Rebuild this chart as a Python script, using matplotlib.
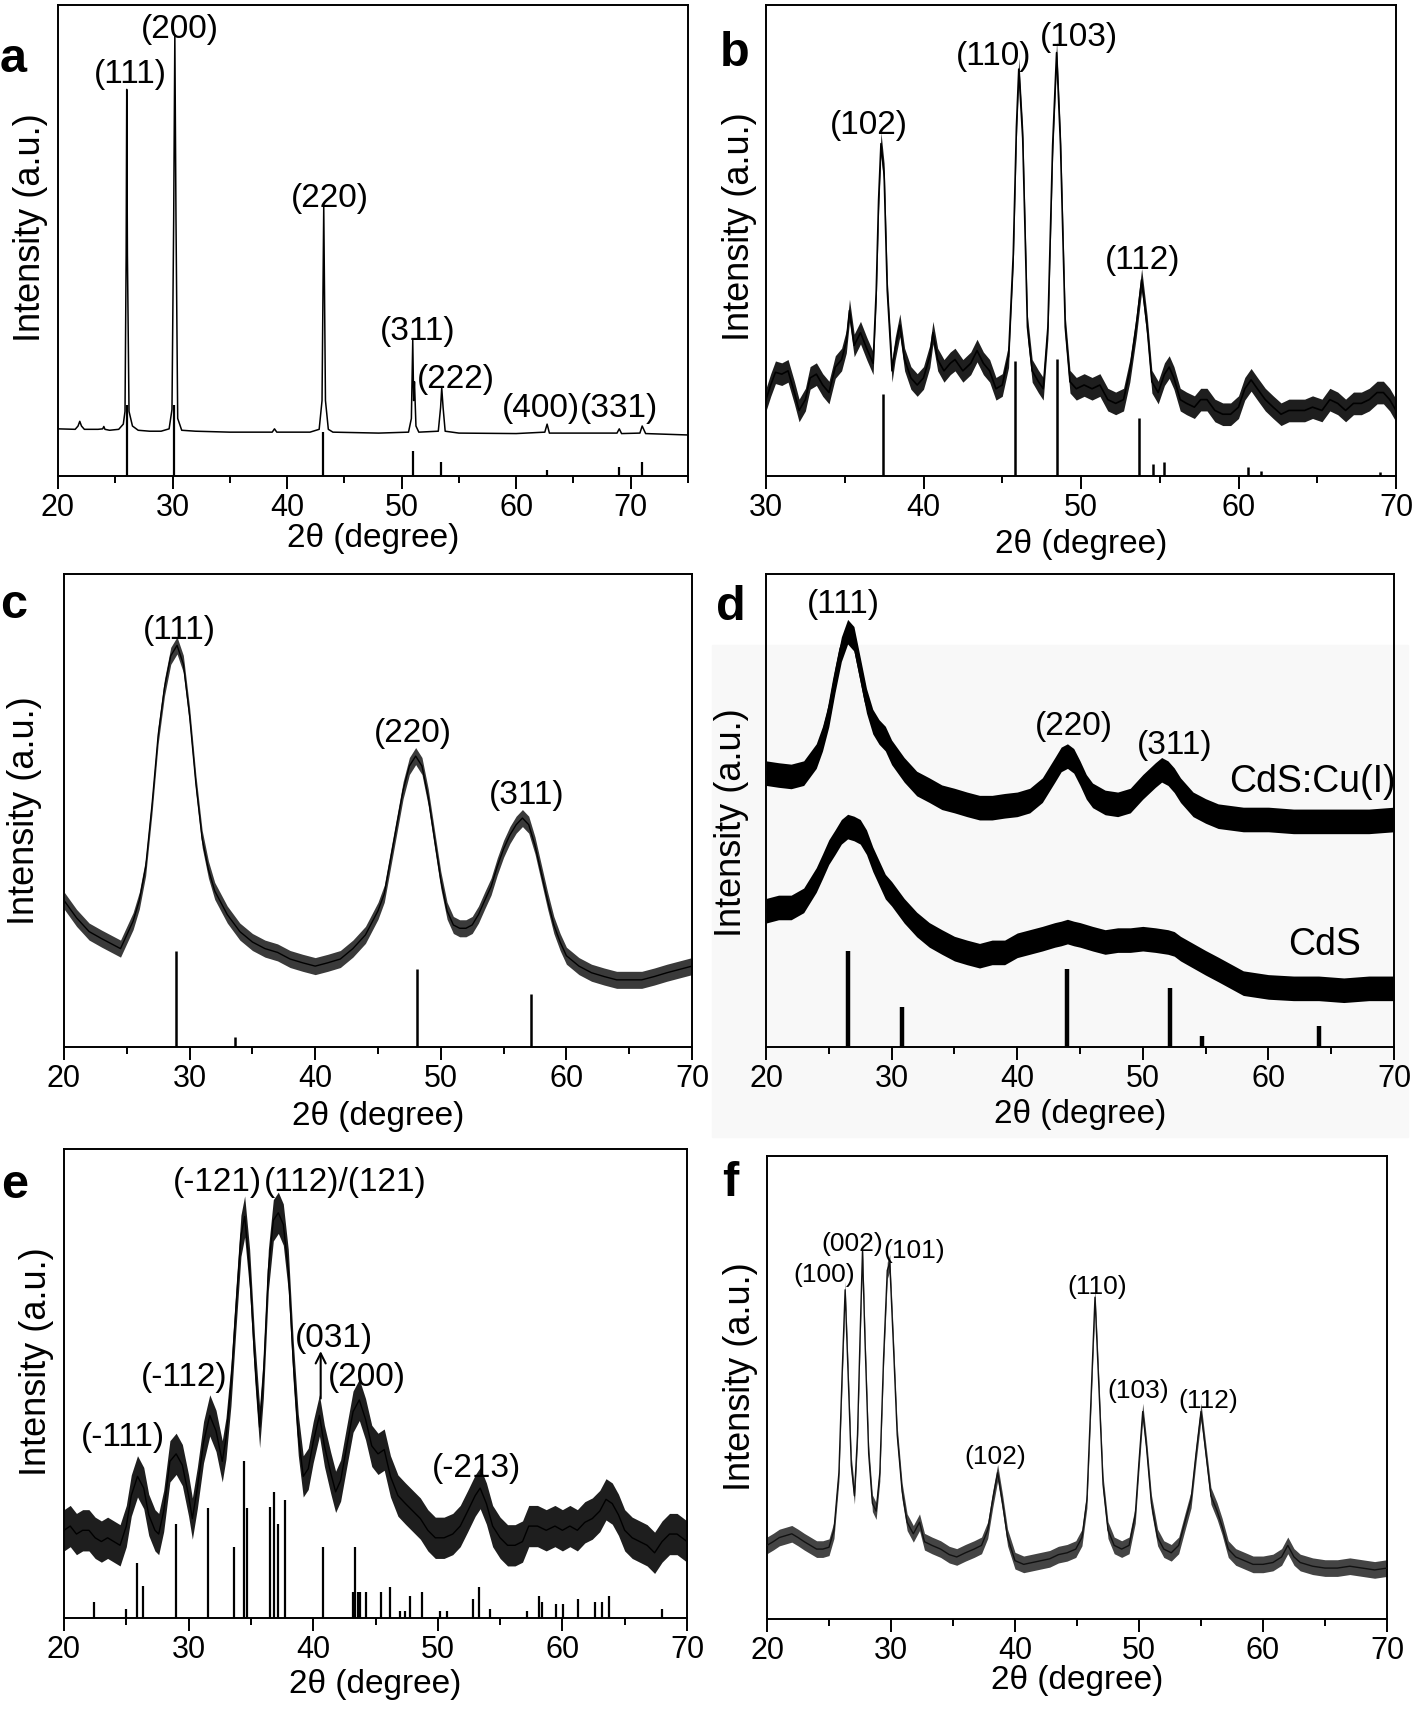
import numpy as np
import matplotlib
matplotlib.use("Agg")
import matplotlib.pyplot as plt
from matplotlib.patches import Rectangle
from matplotlib.ticker import MultipleLocator

plt.rcParams['font.family'] = ['Liberation Sans', 'DejaVu Sans']

# ---------------- data (normalised intensity, frame = 0..1) ----------------
# panel a
A_X = [20.0, 21.5, 21.75, 21.9, 22.05, 22.3, 23.5, 23.9, 24.0, 24.1, 24.5, 25.3, 25.7, 25.85,
       25.95, 26.0, 26.06, 26.2, 26.5, 27.0, 28.0, 29.0, 29.7, 29.95, 30.1, 30.2, 30.3, 30.45,
       30.8, 32.0, 35.0, 38.7, 38.9, 39.1, 42.0, 42.8, 43.05, 43.2, 43.35, 43.6, 44.0, 48.0,
       50.6, 50.85, 50.97, 51.05, 51.12, 51.25, 51.5, 53.2, 53.4, 53.5, 53.62, 53.8, 55.0, 60.0,
       62.5, 62.7, 62.9, 68.8, 69.0, 69.2, 70.8, 71.0, 71.3, 75.0]
A_Y = [0.100, 0.099, 0.106, 0.116, 0.106, 0.099, 0.099, 0.100, 0.105, 0.099, 0.097, 0.099, 0.110, 0.137,
       0.469, 0.820, 0.469, 0.137, 0.106, 0.097, 0.095, 0.095, 0.100, 0.141, 0.546, 0.936, 0.546, 0.122,
       0.097, 0.095, 0.093, 0.093, 0.100, 0.093, 0.093, 0.099, 0.160, 0.573, 0.160, 0.099, 0.093, 0.091,
       0.093, 0.122, 0.288, 0.160, 0.200, 0.106, 0.093, 0.095, 0.145, 0.187, 0.145, 0.095, 0.091, 0.090,
       0.093, 0.110, 0.091, 0.091, 0.100, 0.090, 0.091, 0.106, 0.090, 0.087]
A_STICK_X = [26.0, 30.1, 43.1, 51.0, 53.4, 62.7, 69.0, 71.0]
A_STICK_H = [0.15, 0.15, 0.093, 0.053, 0.030, 0.013, 0.019, 0.030]
A_LABELS = ['(111)', '(200)', '(220)', '(311)', '(222)', '(400)', '(331)']
A_LAB_X = [26.3, 30.6, 43.7, 51.4, 54.7, 62.2, 69.0]
A_LAB_Y = [0.851, 0.948, 0.589, 0.306, 0.205, 0.144, 0.144]

# panel b
B_X = [30.0, 30.3, 30.6, 31.0, 31.4, 31.8, 32.1, 32.5, 32.8, 33.2, 33.6, 34.0, 34.4, 34.8, 35.1,
       35.3, 35.6, 36.0, 36.4, 36.8, 37.0, 37.15, 37.3, 37.5, 37.7, 38.0, 38.2, 38.5, 38.8, 39.2,
       39.6, 40.0, 40.4, 40.6, 40.9, 41.3, 41.7, 42.0, 42.5, 43.0, 43.4, 43.8, 44.2, 44.6, 45.0,
       45.4, 45.7, 45.9, 46.05, 46.3, 46.6, 46.9, 47.3, 47.6, 47.9, 48.2, 48.45, 48.7, 49.0, 49.3,
       49.7, 50.2, 50.7, 51.2, 51.7, 52.2, 52.7, 53.1, 53.5, 53.85, 54.2, 54.5, 54.9, 55.3, 55.6,
       55.9, 56.3, 56.7, 57.2, 57.6, 58.0, 58.5, 59.0, 59.5, 60.0, 60.4, 60.8, 61.2, 61.7, 62.2,
       62.7, 63.2, 63.7, 64.2, 64.7, 65.3, 65.8, 66.3, 66.8, 67.3, 67.8, 68.3, 68.8, 69.2, 69.6, 70.0]
B_Y = [0.162, 0.193, 0.220, 0.216, 0.223, 0.177, 0.139, 0.162, 0.208, 0.216, 0.193, 0.177, 0.231, 0.247, 0.285,
       0.351, 0.277, 0.304, 0.270, 0.239, 0.393, 0.586, 0.705, 0.639, 0.393, 0.223, 0.270, 0.320, 0.247, 0.208,
       0.193, 0.208, 0.254, 0.304, 0.247, 0.223, 0.239, 0.247, 0.223, 0.239, 0.266, 0.239, 0.223, 0.185, 0.193,
       0.254, 0.470, 0.740, 0.863, 0.716, 0.316, 0.223, 0.200, 0.185, 0.316, 0.701, 0.898, 0.701, 0.316, 0.200,
       0.185, 0.193, 0.185, 0.193, 0.162, 0.154, 0.162, 0.223, 0.316, 0.416, 0.316, 0.200, 0.177, 0.216, 0.231,
       0.208, 0.162, 0.154, 0.146, 0.162, 0.162, 0.139, 0.131, 0.131, 0.146, 0.185, 0.204, 0.185, 0.162, 0.146,
       0.131, 0.139, 0.139, 0.139, 0.146, 0.139, 0.162, 0.154, 0.139, 0.154, 0.154, 0.162, 0.177, 0.177, 0.162, 0.139]
B_NOISE = 0.024
B_STICK_X = [37.4, 45.8, 48.5, 53.7, 54.6, 55.3, 60.6, 61.4, 69.0]
B_STICK_H = [0.173, 0.243, 0.249, 0.123, 0.025, 0.029, 0.019, 0.010, 0.008]
B_LABELS = ['(102)', '(110)', '(103)', '(112)']
B_LAB_X = [36.55, 44.45, 49.85, 53.9]
B_LAB_Y = [0.743, 0.890, 0.930, 0.458]

# panel c
C_X = [20, 21, 22, 23, 24, 24.5, 25, 25.5, 26, 26.5, 27, 27.5, 28, 28.5, 29, 29.5, 30, 30.5, 31, 31.5,
       32, 33, 34, 35, 36, 37, 38, 39, 40, 41, 42, 43, 44, 45, 45.5, 46, 46.5, 47, 47.5, 48,
       48.5, 49, 49.5, 50, 50.5, 51, 51.5, 52, 52.5, 53, 53.5, 54, 54.5, 55, 55.5, 56, 56.5, 57, 57.5, 58,
       58.5, 59, 59.5, 60, 61, 62, 63, 64, 65, 66, 67, 68, 69, 70]
C_Y = [0.31, 0.273, 0.244, 0.229, 0.215, 0.208, 0.237, 0.266, 0.31, 0.38, 0.51, 0.66, 0.76, 0.827, 0.849,
       0.81, 0.70, 0.557, 0.44, 0.375, 0.33, 0.28, 0.244, 0.222, 0.208, 0.2, 0.186, 0.178, 0.171, 0.178,
       0.186, 0.208, 0.237, 0.288, 0.324, 0.397, 0.47, 0.543, 0.594, 0.615, 0.594, 0.528, 0.44, 0.353, 0.288,
       0.258, 0.251, 0.251, 0.258, 0.28, 0.31, 0.339, 0.382, 0.419, 0.448, 0.47, 0.484, 0.47, 0.426, 0.368,
       0.31, 0.258, 0.222, 0.193, 0.171, 0.157, 0.149, 0.142, 0.142, 0.142, 0.149, 0.157, 0.164, 0.171]
C_NOISE = 0.018
C_STICK_X = [28.9, 33.6, 48.1, 57.2]
C_STICK_H = [0.202, 0.022, 0.164, 0.111]
C_LABELS = ['(111)', '(220)', '(311)']
C_LAB_X = [29.2, 47.8, 56.8]
C_LAB_Y = [0.881, 0.663, 0.532]

# panel d
D_X = [20, 21, 22, 23, 24, 24.5, 25, 25.5, 26, 26.5, 27, 27.5, 28, 28.5, 29, 29.5, 30, 31, 32, 33,
       34, 35, 36, 37, 38, 39, 40, 41, 42, 43, 43.5, 44, 44.5, 45, 45.5, 46, 47, 48, 49, 50,
       51, 51.5, 52, 52.5, 53, 54, 55, 56, 58, 60, 62, 64, 66, 68, 70]
D_CU_Y = [0.579, 0.575, 0.572, 0.579, 0.615, 0.652, 0.703, 0.776, 0.841, 0.878, 0.863, 0.798, 0.732, 0.688, 0.666,
          0.652, 0.623, 0.586, 0.557, 0.543, 0.528, 0.521, 0.513, 0.506, 0.506, 0.510, 0.513, 0.521, 0.543, 0.586,
          0.608, 0.615, 0.605, 0.579, 0.550, 0.532, 0.517, 0.513, 0.521, 0.550, 0.575, 0.586, 0.579, 0.564, 0.543,
          0.513, 0.499, 0.488, 0.481, 0.481, 0.477, 0.477, 0.477, 0.477, 0.481]
D_CDS_Y = [0.288, 0.295, 0.295, 0.310, 0.353, 0.382, 0.412, 0.433, 0.455, 0.466, 0.462, 0.455, 0.433, 0.397, 0.368,
           0.339, 0.324, 0.288, 0.259, 0.237, 0.222, 0.208, 0.200, 0.193, 0.200, 0.200, 0.215, 0.222, 0.229, 0.237,
           0.240, 0.244, 0.240, 0.237, 0.233, 0.229, 0.222, 0.226, 0.226, 0.229, 0.226, 0.224, 0.222, 0.218, 0.208,
           0.193, 0.178, 0.164, 0.135, 0.127, 0.124, 0.124, 0.120, 0.124, 0.124]
D_NOISE = 0.026
D_STICK_X = [26.5, 30.8, 44.0, 52.2, 54.7, 64.0]
D_STICK_H = [0.204, 0.084, 0.164, 0.124, 0.024, 0.044]
D_LABELS = ['(111)', '(220)', '(311)']
D_LAB_X = [26.2, 44.5, 52.5]
D_LAB_Y = [0.935, 0.677, 0.637]
D_SERIES = ['CdS:Cu(I)', 'CdS']
D_SER_X = [63.5, 64.5]
D_SER_Y = [0.560, 0.215]

# panel e
E_X = [20.0, 20.5, 21.0, 21.5, 22.0, 22.5, 23.0, 23.5, 24.0, 24.5, 25.0, 25.4, 25.9, 26.4, 26.8, 27.3, 27.6,
       28.0, 28.5, 29.0, 29.5, 30.0, 30.3, 30.7, 31.2, 31.7, 32.2, 32.7, 33.0, 33.4, 33.8, 34.2, 34.5,
       34.9, 35.3, 35.7, 36.0, 36.4, 36.8, 37.2, 37.6, 38.0, 38.4, 38.8, 39.2, 39.6, 40.0, 40.5, 40.9,
       41.4, 41.8, 42.2, 42.7, 43.2, 43.7, 44.2, 44.7, 45.2, 45.7, 46.2, 46.8, 47.4, 48.0, 48.6, 49.2,
       49.8, 50.5, 51.2, 51.8, 52.4, 53.0, 53.4, 53.9, 54.4, 55.0, 55.6, 56.2, 56.8, 57.3, 58.0, 58.7,
       59.4, 60.0, 60.6, 61.2, 61.8, 62.4, 63.0, 63.5, 64.0, 64.5, 65.0, 65.6, 66.2, 66.8, 67.4, 68.0,
       68.6, 69.2, 69.6, 70.0]
E_Y = [0.187, 0.196, 0.179, 0.187, 0.187, 0.171, 0.163, 0.171, 0.163, 0.155, 0.196, 0.261, 0.302, 0.277, 0.220, 0.187, 0.179,
       0.228, 0.334, 0.350, 0.326, 0.261, 0.212, 0.277, 0.375, 0.432, 0.399, 0.334, 0.383, 0.497, 0.660, 0.815, 0.856,
       0.742, 0.554, 0.407, 0.513, 0.742, 0.848, 0.864, 0.839, 0.742, 0.546, 0.391, 0.302, 0.318, 0.375, 0.432, 0.367,
       0.310, 0.269, 0.293, 0.367, 0.440, 0.465, 0.424, 0.367, 0.350, 0.359, 0.302, 0.261, 0.244, 0.228, 0.212, 0.187,
       0.171, 0.171, 0.179, 0.196, 0.228, 0.261, 0.277, 0.244, 0.196, 0.171, 0.155, 0.155, 0.163, 0.196, 0.196, 0.187,
       0.196, 0.187, 0.196, 0.187, 0.204, 0.212, 0.228, 0.253, 0.244, 0.220, 0.187, 0.171, 0.163, 0.155, 0.139, 0.163,
       0.179, 0.179, 0.171, 0.163]
E_NOISE = 0.044
E_STICK_X = [22.43, 24.97, 25.88, 26.32, 28.96, 31.56, 33.62, 34.44, 34.67, 36.57, 36.84, 37.14, 37.75,
             40.76, 43.22, 43.39, 43.56, 43.73, 44.24, 45.42, 46.2, 46.94, 47.38, 47.79, 48.74, 50.16,
             50.76, 52.79, 53.3, 54.21, 57.19, 58.1, 58.37, 59.45, 60.06, 61.24, 62.6, 63.17, 63.78, 67.97]
E_STICK_H = [0.034, 0.020, 0.118, 0.069, 0.200, 0.234, 0.151, 0.334, 0.234, 0.236, 0.269, 0.200, 0.251,
             0.151, 0.055, 0.151, 0.055, 0.055, 0.055, 0.055, 0.067, 0.015, 0.015, 0.047, 0.055, 0.015,
             0.015, 0.041, 0.067, 0.020, 0.015, 0.047, 0.035, 0.030, 0.030, 0.041, 0.035, 0.035, 0.047, 0.020]
E_LABELS = ['(-111)', '(-112)', '(-121)', '(112)/(121)', '(031)', '(200)', '(-213)']
E_LAB_X = [24.7, 29.65, 32.3, 42.6, 41.7, 44.3, 53.1]
E_LAB_Y = [0.385, 0.513, 0.929, 0.929, 0.597, 0.513, 0.318]
E_ARROW_X = 40.6
E_ARROW_Y = [0.462, 0.575]

# panel f
F_X = [20.0, 20.5, 21.0, 21.5, 22.0, 22.5, 23.0, 23.5, 24.0, 24.5, 25.0, 25.4, 25.8, 26.05, 26.3, 26.55,
       26.8, 27.05, 27.3, 27.5, 27.7, 27.9, 28.2, 28.5, 28.8, 29.1, 29.4, 29.7, 29.9, 30.2, 30.5, 30.9,
       31.3, 31.8, 32.3, 32.7, 33.3, 34.0, 34.7, 35.3, 36.0, 36.7, 37.3, 37.8, 38.2, 38.6, 39.0, 39.4,
       40.0, 40.7, 41.4, 42.1, 42.8, 43.5, 44.2, 44.9, 45.4, 45.8, 46.1, 46.45, 46.8, 47.1, 47.5, 48.0,
       48.6, 49.2, 49.7, 50.0, 50.3, 50.6, 51.0, 51.5, 52.0, 52.6, 53.2, 53.7, 54.2, 54.6, 55.0, 55.4,
       55.8, 56.3, 56.7, 57.2, 57.8, 58.5, 59.2, 60.0, 60.8, 61.5, 62.0, 62.5, 63.0, 64.0, 65.0, 66.0,
       67.0, 68.0, 69.0, 70.0]
F_Y = [0.159, 0.167, 0.176, 0.180, 0.184, 0.176, 0.167, 0.159, 0.151, 0.151, 0.155, 0.192, 0.316, 0.522, 0.711, 0.522,
       0.332, 0.266, 0.398, 0.604, 0.794, 0.604, 0.357, 0.250, 0.233, 0.316, 0.563, 0.753, 0.769, 0.588, 0.398, 0.275,
       0.209, 0.184, 0.209, 0.167, 0.159, 0.151, 0.139, 0.134, 0.143, 0.151, 0.159, 0.192, 0.258, 0.316, 0.250, 0.176,
       0.126, 0.118, 0.122, 0.126, 0.130, 0.139, 0.143, 0.151, 0.176, 0.258, 0.456, 0.695, 0.480, 0.291, 0.192, 0.159,
       0.151, 0.159, 0.225, 0.340, 0.448, 0.373, 0.250, 0.176, 0.151, 0.143, 0.159, 0.209, 0.258, 0.357, 0.448, 0.357,
       0.266, 0.233, 0.200, 0.151, 0.134, 0.126, 0.118, 0.118, 0.122, 0.134, 0.159, 0.134, 0.122, 0.114, 0.110, 0.110,
       0.114, 0.110, 0.106, 0.110]
F_NOISE = 0.018
F_LABELS = ['(100)', '(002)', '(101)', '(102)', '(110)', '(103)', '(112)']
F_LAB_X = [24.6, 26.9, 31.9, 38.4, 46.6, 49.9, 55.6]
F_LAB_Y = [0.744, 0.810, 0.794, 0.350, 0.716, 0.493, 0.470]

# ---------------- figure ----------------
W, H = 1418, 1709
fig = plt.figure(figsize=(W / 100, H / 100), dpi=100)

TICK_FS = 22
XLAB_FS = 24
YLAB_FS = 26
PEAK_FS = 24


def px_rect(l, r, t, b):
    return [l / W, 1 - b / H, (r - l) / W, (b - t) / H]


def make_axes(box, xlim, xlabel_y, ylabel_xy, letter, letter_xy, face='white'):
    l, r, t, b = box
    ax = fig.add_axes(px_rect(l, r, t, b))
    ax.set_facecolor(face)
    ax.set_xlim(*xlim)
    ax.set_ylim(0, 1)
    ax.set_yticks([])
    ax.xaxis.set_major_locator(MultipleLocator(10))
    ax.xaxis.set_minor_locator(MultipleLocator(5))
    ax.tick_params(axis='x', which='major', direction='out', length=9, width=1.4,
                   labelsize=TICK_FS, pad=3, top=False)
    ax.tick_params(axis='x', which='minor', direction='out', length=5, width=1.4, top=False)
    for s in ax.spines.values():
        s.set_linewidth(1.4)
    ax.set_xlabel('2θ (degree)', fontsize=XLAB_FS)
    ax.xaxis.label.set_va('center')
    ax.xaxis.set_label_coords(0.5, -(xlabel_y - b) / (b - t))
    ax.set_ylabel('Intensity (a.u.)', fontsize=YLAB_FS)
    ax.yaxis.label.set_va('center')
    ax.yaxis.set_label_coords(-(l - ylabel_xy[0]) / (r - l), (b - ylabel_xy[1]) / (b - t))
    fig.text(letter_xy[0] / W, 1 - letter_xy[1] / H, letter, fontsize=35, fontweight='bold',
             ha='center', va='center')
    return ax


def noisy(ax, x, y, n, band, line, lw=1.0):
    x = np.asarray(x)
    y = np.asarray(y)
    ax.fill_between(x, y - n, y + n, color=band, lw=0, zorder=2)
    ax.plot(x, y, color=line, lw=lw, zorder=3)


def labels(ax, xs, ys, texts, size):
    for xx, yy, tt in zip(xs, ys, texts):
        ax.text(xx, yy, tt, fontsize=size, ha='center', va='center', zorder=5)


# faint gray background behind panel d
fig.patches.append(Rectangle((712 / W, 1 - 1137 / H), (1408 - 712) / W, (1137 - 645) / H,
                             transform=fig.transFigure, color='#f8f8f8', zorder=-10))

# a
ax = make_axes((58, 688, 4.5, 476), (20, 75), 538, (31, 228), 'a', (13.6, 59))
ax.plot(A_X, A_Y, color='k', lw=1.1)
ax.vlines(A_STICK_X, 0, A_STICK_H, color='k', lw=1.6)
labels(ax, A_LAB_X, A_LAB_Y, A_LABELS, PEAK_FS)

# b
ax = make_axes((766, 1396, 4.5, 476), (30, 70), 544, (739, 227), 'b', (735, 54))
noisy(ax, B_X, B_Y, B_NOISE, '#1e1e1e', 'k', 1.2)
ax.vlines(B_STICK_X, 0, B_STICK_H, color='k', lw=1.8)
labels(ax, B_LAB_X, B_LAB_Y, B_LABELS, PEAK_FS)

# c
ax = make_axes((64, 692, 574, 1047), (20, 70), 1116, (25, 811), 'c', (13.6, 606))
noisy(ax, C_X, C_Y, C_NOISE, '#3a3a3a', '#000000', 1.0)
ax.vlines(C_STICK_X, 0, C_STICK_H, color='k', lw=1.8)
labels(ax, C_LAB_X, C_LAB_Y, C_LABELS, PEAK_FS)

# d
ax = make_axes((766, 1394, 574, 1047), (20, 70), 1115, (731, 823), 'd', (731, 607), face='none')
noisy(ax, D_X, D_CU_Y, D_NOISE, 'k', 'k', 3.0)
noisy(ax, D_X, D_CDS_Y, D_NOISE, 'k', 'k', 3.0)
ax.vlines(D_STICK_X, 0, D_STICK_H, color='k', lw=3.2)
labels(ax, D_LAB_X, D_LAB_Y, D_LABELS, PEAK_FS)
labels(ax, D_SER_X, D_SER_Y, D_SERIES, 27)

# e
ax = make_axes((64, 687, 1149, 1618), (20, 70), 1685, (37, 1362), 'e', (14.5, 1186))
noisy(ax, E_X, E_Y, E_NOISE, '#1e1e1e', 'k', 1.0)
ax.vlines(E_STICK_X, 0, E_STICK_H, color='k', lw=1.6)
labels(ax, E_LAB_X, E_LAB_Y, E_LABELS, PEAK_FS)
ax.annotate('', xy=(E_ARROW_X, E_ARROW_Y[1]), xytext=(E_ARROW_X, E_ARROW_Y[0]),
            arrowprops=dict(arrowstyle='->', lw=1.5, color='k', mutation_scale=18), zorder=6)

# f
ax = make_axes((767, 1387, 1156, 1619), (20, 70), 1680, (740, 1377), 'f', (730, 1184))
noisy(ax, F_X, F_Y, F_NOISE, '#444444', '#111111', 1.0)
labels(ax, F_LAB_X, F_LAB_Y, F_LABELS, 19)

fig.savefig('out.png', dpi=100, facecolor='white')
